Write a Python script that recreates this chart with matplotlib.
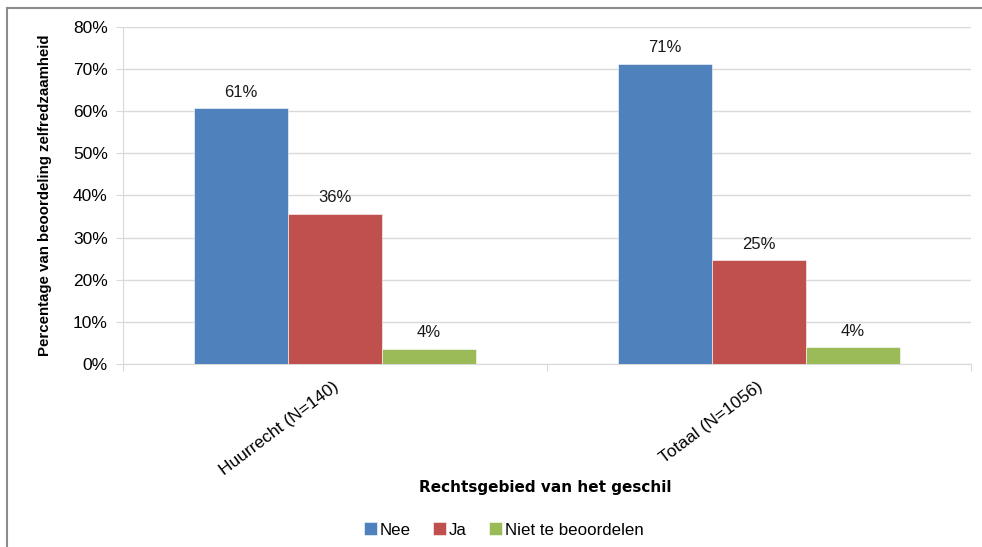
import numpy as np
import matplotlib
matplotlib.use('Agg')
import matplotlib.pyplot as plt
from matplotlib.lines import Line2D

# data
categories = ['Huurrecht (N=140)', 'Totaal (N=1056)']
series_names = ['Nee', 'Ja', 'Niet te beoordelen']
nee = [60.7, 71.3]
ja = [35.7, 24.6]
niet = [3.6, 4.0]
value_labels = [['61%', '71%'], ['36%', '25%'], ['4%', '4%']]
colors = ['#4F81BD', '#C0504D', '#9BBB59']

plt.rcParams['font.family'] = ['Liberation Sans', 'DejaVu Sans']

fig = plt.figure(figsize=(9.82, 5.47), dpi=100)
ax = fig.add_axes([0.1253, 0.3346, 0.8635, 0.616])

x = np.arange(len(categories))
width = 0.222
series = [nee, ja, niet]
for i, (vals, name) in enumerate(zip(series, series_names)):
    pos = x + (i - 1) * width
    bars = ax.bar(pos, vals, width, color=colors[i], label=name,
                  edgecolor='white', linewidth=0.4, zorder=3)
    for b, lab in zip(bars, value_labels[i]):
        ax.text(b.get_x() + b.get_width() / 2, b.get_height() + 2.0, lab,
                ha='center', va='bottom', fontsize=12, color='#1a1a1a')

ax.set_xlim(-0.5, 1.5)
ax.set_ylim(0, 80)
ax.set_yticks(np.arange(0, 81, 10))
ax.set_yticklabels([f'{v}%' for v in range(0, 81, 10)], fontsize=12.5)
ax.yaxis.grid(True, color='#D9D9D9', linewidth=1, zorder=0)

# category tick marks sit on the borders between groups
ax.set_xticks([-0.5, 0.5, 1.5])
ax.set_xticklabels([])
ax.tick_params(axis='x', length=5, color='#D9D9D9', direction='out')
ax.tick_params(axis='y', length=5, color='#D9D9D9', direction='out', pad=6)
for i, cat in enumerate(categories):
    ax.text(i - 0.005, -3.6, cat, rotation=37, ha='right', va='top',
            rotation_mode='anchor', fontsize=12.5, transform=ax.transData)

for s in ['top', 'right']:
    ax.spines[s].set_visible(False)
ax.spines['left'].set_color('#D9D9D9')
ax.spines['bottom'].set_color('#D9D9D9')

ax.set_ylabel('Percentage van beoordeling zelfredzaamheid', fontsize=10.8,
              fontweight='bold', labelpad=15)
fig.text(0.5555, 0.108, 'Rechtsgebied van het geschil', ha='center', va='center',
         fontsize=11, fontweight='bold', family=['DejaVu Sans'])

ax.legend(loc='center', bbox_to_anchor=(0.513, 0.031), bbox_transform=fig.transFigure,
          ncol=3, frameon=False, fontsize=12.2, handlelength=0.75, handleheight=0.75,
          handletextpad=0.15, columnspacing=1.35)

# outer frame lines (left and top)
fig.add_artist(Line2D([0.0072, 0.0072], [0, 0.986], transform=fig.transFigure,
                      color='#8C8C8C', linewidth=1.5))
fig.add_artist(Line2D([0.0072, 1], [0.986, 0.986], transform=fig.transFigure,
                      color='#8C8C8C', linewidth=1.5))

fig.savefig('out.png', dpi=100)
